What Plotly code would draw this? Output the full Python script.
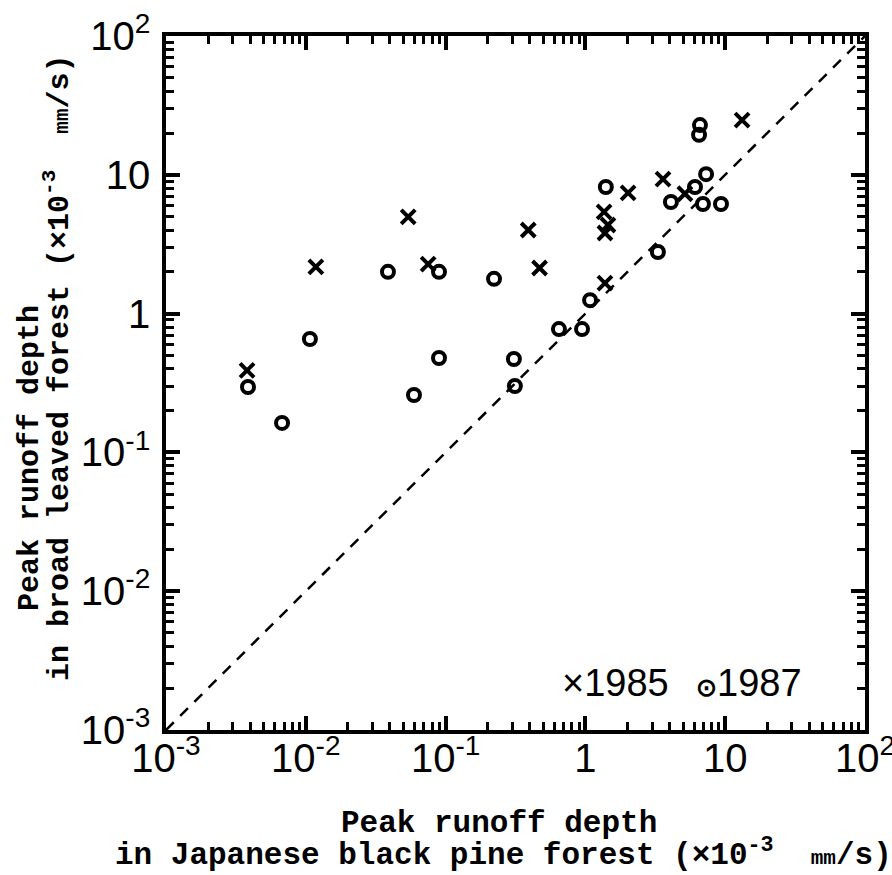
import plotly.graph_objects as go

# Peak runoff depth (x10^-3 mm/s): Japanese black pine forest (x) vs broad leaved forest (y)
pine_1985 = [0.0038, 0.0118, 0.054, 0.075, 0.39, 0.47, 1.36, 1.45, 1.38, 1.38, 2.02, 3.59, 5.15, 13.2]
broad_1985 = [0.39, 2.17, 4.97, 2.27, 4.0, 2.13, 5.4, 4.35, 3.81, 1.66, 7.4, 9.3, 7.3, 24.8]

pine_1987 = [0.00386, 0.00676, 0.0107, 0.0387, 0.0594, 0.0897, 0.0897, 0.222, 0.308, 0.313,
             0.647, 0.946, 1.08, 1.40, 3.30, 4.09, 6.08, 7.30, 6.93, 9.33, 6.6, 6.5]
broad_1987 = [0.296, 0.163, 0.656, 2.0, 0.259, 0.479, 2.0, 1.78, 0.471, 0.301,
              0.774, 0.774, 1.25, 8.17, 2.78, 6.37, 8.17, 10.1, 6.16, 6.16, 22.8, 19.4]

# 1:1 reference line
diag = [1e-3, 1e2]

major_vals = [1e-3, 1e-2, 1e-1, 1, 10, 100]
major_text = ["10<sup>-3</sup>", "10<sup>-2</sup>", "10<sup>-1</sup>", "1", "10", "10<sup>2</sup>"]
minor_vals = [m * 10.0 ** e for e in range(-3, 2) for m in range(2, 10)]

TICK_FONT = "Liberation Sans, Arial, sans-serif"
TITLE_FONT = "Liberation Mono, Courier New, monospace"

fig = go.Figure()

fig.add_trace(go.Scatter(
    x=diag, y=diag, mode="lines",
    line=dict(color="black", width=2.5, dash="11px,9px"),
    showlegend=False, hoverinfo="skip"))

fig.add_trace(go.Scatter(
    x=pine_1985, y=broad_1985, mode="markers", name="1985",
    marker=dict(symbol="x-thin-open", size=14, color="black",
                line=dict(color="black", width=4)),
    showlegend=False))

fig.add_trace(go.Scatter(
    x=pine_1987, y=broad_1987, mode="markers", name="1987",
    marker=dict(symbol="circle-open", size=12, color="black",
                line=dict(color="black", width=4)),
    showlegend=False))

axis_common = dict(
    type="log", range=[-3, 2], automargin=False,
    tickmode="array", tickvals=major_vals, ticktext=major_text,
    ticks="inside", ticklen=14, tickwidth=3.5, tickcolor="black",
    minor=dict(tickmode="array", tickvals=minor_vals, ticks="inside",
               ticklen=8, tickwidth=3, tickcolor="black", showgrid=False),
    showline=True, linewidth=3.5, linecolor="black", mirror="ticks",
    showgrid=False, zeroline=False, ticklabeloverflow="allow",
    tickfont=dict(family=TICK_FONT, size=40, color="black"),
)

W, H = 892, 875
L, R, T, B = 166, 27, 36, 145

fig.update_layout(
    template="none",
    width=W, height=H,
    margin=dict(l=L, r=R, t=T, b=B, autoexpand=False),
    paper_bgcolor="white", plot_bgcolor="white",
    showlegend=False,
    xaxis=dict(**axis_common, ticklabelstandoff=-10),
    yaxis=dict(**axis_common, ticklabelstandoff=4),
)

pw, ph = W - L - R, H - T - B


def px_to_paper(px, py):
    return (px - L) / pw, (H - B - py) / ph


def add_text(text, px, py, angle=0, xanchor="center", family=TITLE_FONT, size=31, weight="normal"):
    xp, yp = px_to_paper(px, py)
    fig.add_annotation(
        text=text, x=xp, y=yp, xref="paper", yref="paper",
        xanchor=xanchor, yanchor="middle", textangle=angle, showarrow=False,
        font=dict(family=family, size=size, color="black", weight=weight))


mm = "<span style='font-size:21px'>mm</span>"

# Axis titles
add_text("Peak runoff depth", 499, 823, weight="bold")
add_text(f"in Japanese black pine forest (×10<sup>-3</sup>  {mm}/s)", 503, 853, weight="bold")
add_text("Peak runoff depth", 30, 458, angle=-90, size=30, weight="bold")
add_text(f"in broad leaved forest (×10<sup>-3</sup>  {mm}/s)", 58, 368, angle=-90, size=30, weight="bold")

# Year key inside the plot
add_text("×1985", 560, 683, xanchor="left", family=TICK_FONT, size=38)
add_text("<span style='font-size:25px'><b>⊙</b></span>1987", 694, 683, xanchor="left",
         family=TICK_FONT, size=38)

fig.write_html("out.html")
